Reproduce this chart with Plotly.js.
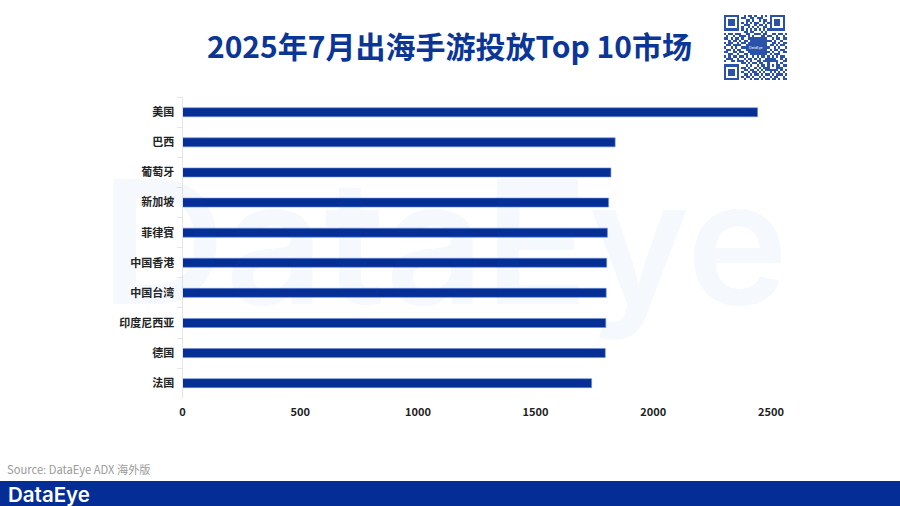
<!DOCTYPE html>
<html><head><meta charset="utf-8">
<script src="https://cdn.plot.ly/plotly-3.0.1.min.js"></script>
<style>html,body{margin:0;padding:0;background:#fff}#c{width:900px;height:506px}</style></head>
<body><div id="c"></div>
<script>
const markets = ['美国','巴西','葡萄牙','新加坡','菲律賓','中国香港','中国台湾','印度尼西亚','德国','法国'];
const spend = [2443,1838,1820,1810,1805,1802,1800,1798,1796,1738];
const tickVals = [0,500,1000,1500,2000,2500];
const chartTitle = '2025年7月出海手游投放Top 10市场';
const sourceText = 'Source: DataEye ADX 海外版';
const brandText = 'DataEye';
const qrRows = [
'11111110010110100101011111110',
'10000010110011011100010000010',
'10111010001101001011010111010',
'10111010101010110010110111010',
'10111010011100101101010111010',
'10000010100101010011010000010',
'11111110101010101010111111110',
'00000000011011000101000000000',
'10110111001100111011001101101',
'01001001110101000110110010010',
'11010110100111111111001011011',
'00101101011011111111110100100',
'10110010110111111111001101011',
'01101111001111111111011010110',
'10010100111111111111100101001',
'01101011001111111111010110110',
'11001101100111111111101001011',
'00110010011011111111010111000',
'10101101101001010110101010110',
'01110010010110101001111100101',
'10011011101010011011111110011',
'00000000110101101100100010100',
'11111110001010010110101011011',
'10000010110100101011100011100',
'10111010011011010101111110101',
'10111010100101101010010101010',
'10111010011010110101101011101',
'10000010101101001010010110010',
'11111110010010110101101101011'
];
const W = 900, H = 506;
const px = x => x / W, py = y => 1 - y / H;
const qrZ = qrRows.map(r => r.split('').map(Number));

const traces = [
  {type:'bar', orientation:'h', x:spend, y:markets, width:0.3,
   marker:{color:'#062f96', line:{color:'#6f8fd6', width:0.6}}, hoverinfo:'skip', xaxis:'x', yaxis:'y'},
  {type:'heatmap', z:qrZ, xaxis:'x2', yaxis:'y2', showscale:false, hoverinfo:'skip',
   colorscale:[[0,'#ffffff'],[1,'#2a52aa']], zmin:0, zmax:1}
];
const layout = {
  width:W, height:H, margin:{l:0,r:0,t:0,b:0,autoexpand:false},
  paper_bgcolor:'#ffffff', plot_bgcolor:'rgba(0,0,0,0)', showlegend:false,
  title:{text:chartTitle, x:px(449.5), xanchor:'center', y:py(47.5), yanchor:'middle', yref:'paper',
         font:{family:'"Noto Sans CJK SC"', size:30, weight:700, color:'#0b3696'}},
  xaxis:{domain:[px(182.5),px(771)], range:[0,2500], tickvals:tickVals, ticktext:tickVals.map(String), anchor:'y',
         showgrid:false, zeroline:false, showline:false, ticks:'', automargin:false, ticklabelstandoff:6,
         tickfont:{family:'"Noto Sans CJK SC"', size:11, weight:700, color:'#222'}},
  yaxis:{domain:[py(398.2),py(97.2)], autorange:false, range:[9.5,-0.5], type:'category', anchor:'x',
         showgrid:false, zeroline:false, showline:true, linecolor:'#e6e6e6', linewidth:1,
         ticks:'outside', tickson:'boundaries', ticklen:5, tickcolor:'#e6e6e6', automargin:false, ticklabelstandoff:5,
         tickfont:{family:'"Noto Sans CJK SC"', size:11, weight:700, color:'#222'}},
  xaxis2:{domain:[px(724),px(787)], visible:false, anchor:'y2', fixedrange:true},
  yaxis2:{domain:[py(80),py(15)], visible:false, anchor:'x2', autorange:'reversed', fixedrange:true},
  shapes:[{type:'rect', xref:'paper', yref:'paper', x0:0, x1:1, y0:0, y1:py(481), fillcolor:'#042e95', line:{width:0}, layer:'below'}],
  annotations:[
    {text:brandText, xref:'paper', yref:'paper', x:px(99), y:py(241), xanchor:'left', yanchor:'middle', showarrow:false,
     font:{family:'Inter', size:172, weight:600, color:'rgba(20,90,190,0.045)'}},
    {text:sourceText, xref:'paper', yref:'paper', x:px(5), y:py(469), xanchor:'left', yanchor:'middle', showarrow:false,
     font:{family:'"Noto Sans CJK SC"', size:11.2, color:'#9a9a9a'}},
    {text:brandText, xref:'paper', yref:'paper', x:px(6), y:py(494), xanchor:'left', yanchor:'middle', showarrow:false,
     font:{family:'Inter', size:20.5, weight:600, color:'#ffffff'}},
    {text:brandText, xref:'paper', yref:'paper', x:px(755.5), y:py(47.5), xanchor:'center', yanchor:'middle', showarrow:false,
     font:{family:'Inter', size:3.5, color:'#ffffff'}}
  ]
};
Plotly.newPlot('c', traces, layout, {displayModeBar:false, staticPlot:true});
</script></body></html>
